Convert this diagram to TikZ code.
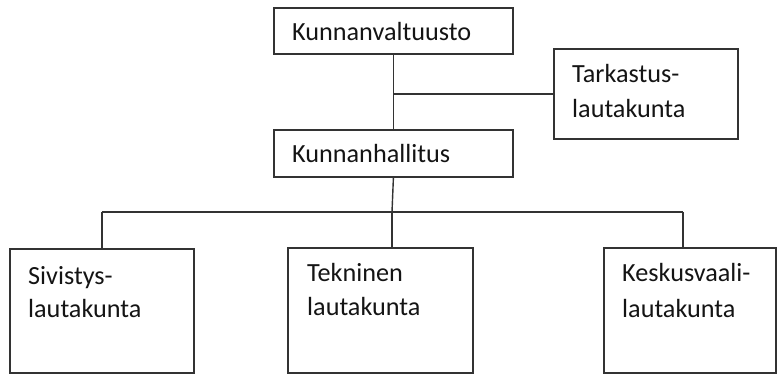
\documentclass[tikz,border=0pt]{standalone}
\usepackage{fontspec}
\setmainfont{Carlito}
\definecolor{ink}{HTML}{141414}
\definecolor{edge}{HTML}{333333}
\begin{document}
\begin{tikzpicture}[x=1pt,y=-1pt,
  box/.style={draw=edge,line width=1.8pt,anchor=north west,inner sep=0pt},
  lbl/.style={anchor=base west,inner sep=0pt,text=ink,font=\fontsize{26.2}{30}\selectfont},
  conn/.style={draw=edge,line width=1.4pt}]
\useasboundingbox (0,0) rectangle (777,374);
% boxes
\node[box,minimum width=239pt,minimum height=46pt] (kv) at (273,7) {};
\node[box,minimum width=184pt,minimum height=90pt] (tark) at (553,48) {};
\node[box,minimum width=239pt,minimum height=47pt] (kh) at (273,129) {};
\node[box,minimum width=184pt,minimum height=124pt] (siv) at (9,248) {};
\node[box,minimum width=185pt,minimum height=125pt] (tek) at (287,247) {};
\node[box,minimum width=172pt,minimum height=125pt] (kes) at (603,247) {};
% labels
\node[lbl] (kvt) at (292,41) {Kunnanvaltuusto};
\node[lbl] (tark1) at (572,83) {Tarkastus-};
\node[lbl] (tark2) at (572,118) {lautakunta};
\node[lbl] (kht) at (292,163) {Kunnanhallitus};
\node[lbl] (siv1) at (28,285) {Sivistys-};
\node[lbl] (siv2) at (28,318) {lautakunta};
\node[lbl] (tek1) at (307,282) {Tekninen};
\node[lbl] (tek2) at (307,316) {lautakunta};
\node[lbl] (kes1) at (622,282) {Keskusvaali-};
\node[lbl] (kes2) at (622,317) {lautakunta};
% connectors
\coordinate (j1) at (kv.south |- tark.west);
\coordinate (j2) at (392,212);
\coordinate (jl) at (siv.north |- j2);
\coordinate (jr) at (683,212);
\coordinate (kesTop) at (jr |- kes.north);
\draw[conn] (kv.south) -- (kh.north);
\draw[conn] (j1) -- (tark.west);
\draw[conn] (kh.south) -- (j2);
\draw[conn] (jl) -- (jr);
\draw[conn] (jl) -- (siv.north);
\draw[conn] (j2) -- (tek.north -| j2);
\draw[conn] (jr) -- (kesTop);
\end{tikzpicture}
\end{document}
